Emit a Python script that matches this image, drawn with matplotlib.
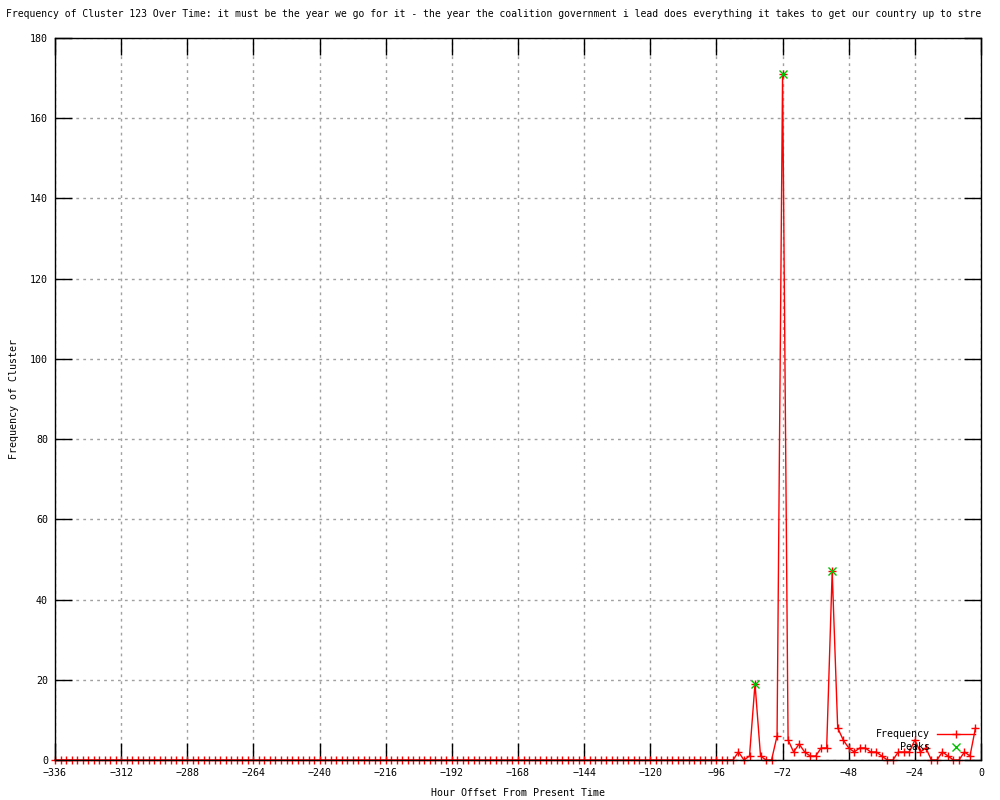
import matplotlib
matplotlib.use("Agg")
import matplotlib.pyplot as plt

plt.rcParams['font.family'] = ['DejaVu Sans Mono']
FS = 7.2

title = ("Frequency of Cluster 123 Over Time: it must be the year we go for it - the year the "
         "coalition government i lead does everything it takes to get our country up to stre")

hours = list(range(-336, 0, 2))
frequency = [
    0, 0, 0, 0, 0, 0, 0, 0, 0, 0, 0, 0, 0, 0, 0, 0, 0, 0, 0, 0,
    0, 0, 0, 0, 0, 0, 0, 0, 0, 0, 0, 0, 0, 0, 0, 0, 0, 0, 0, 0,
    0, 0, 0, 0, 0, 0, 0, 0, 0, 0, 0, 0, 0, 0, 0, 0, 0, 0, 0, 0,
    0, 0, 0, 0, 0, 0, 0, 0, 0, 0, 0, 0, 0, 0, 0, 0, 0, 0, 0, 0,
    0, 0, 0, 0, 0, 0, 0, 0, 0, 0, 0, 0, 0, 0, 0, 0, 0, 0, 0, 0,
    0, 0, 0, 0, 0, 0, 0, 0, 0, 0, 0, 0, 0, 0, 0, 0, 0, 0, 0, 0,
    0, 0, 0, 0,
    2, 0, 1, 19, 1, 0, 0, 6, 171, 5, 2, 4, 2, 1, 1, 3, 3, 47, 8, 5,
    3, 2, 3, 3, 2, 2, 1, 0, 0, 2, 2, 2, 5, 2, 3, 0, 0, 2, 1, 0,
    0, 2, 1, 8,
]
peak_hours = [-82, -72, -54]
peak_values = [19, 171, 47]

xticks = list(range(-336, 1, 24))
yticks = list(range(0, 181, 20))

fig = plt.figure(figsize=(10, 8), dpi=100)
ax = fig.add_axes([0.055, 0.05, 0.926, 0.9025])

ax.plot(hours, frequency, color='#ff0000', lw=1.0, marker='+', markersize=6,
        markeredgewidth=1.0, clip_on=False, zorder=3, label='Frequency')
ax.plot(peak_hours, peak_values, linestyle='none', color='#00c000', marker='x',
        markersize=5.5, markeredgewidth=1.0, clip_on=False, zorder=4, label='Peaks')

ax.set_xlim(-336, 0)
ax.set_ylim(0, 180)
ax.set_xticks(xticks)
ax.set_yticks(yticks)
ax.set_xticklabels([str(t).replace('-', '\u2212') for t in xticks], fontsize=FS)
ax.set_yticklabels([str(t) for t in yticks], fontsize=FS)
ax.tick_params(direction='in', length=12, width=1, top=True, right=True,
               color='black', pad=5)
ax.tick_params(axis='x', pad=6)
ax.grid(True, color='#a0a0a0', linestyle=(0, (2, 3)), linewidth=1.0)
ax.set_axisbelow(True)
for s in ax.spines.values():
    s.set_linewidth(1.0)
    s.set_zorder(5)

ax.set_xlabel('Hour Offset From Present Time', fontsize=FS, labelpad=7)
ax.set_ylabel('Frequency of Cluster', fontsize=FS, labelpad=8)

fig.text(0.006, 0.982, title, fontsize=7.05, ha='left', va='center')

leg = ax.legend(loc='lower right', bbox_to_anchor=(0.9935, 0.011), frameon=False,
                markerfirst=False, fontsize=FS, handlelength=3.8, handletextpad=0.7,
                labelspacing=0.3, borderpad=0, borderaxespad=0)

fig.savefig('out.png', dpi=100)
